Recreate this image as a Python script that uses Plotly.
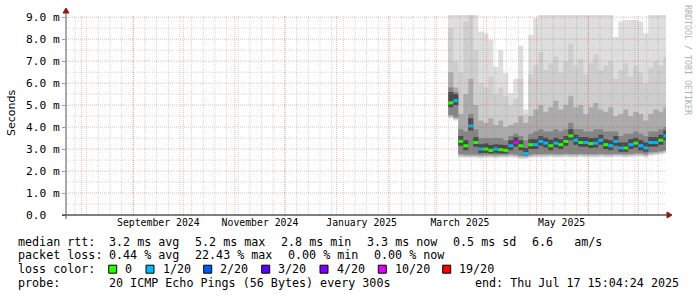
import plotly.graph_objects as go
import pandas as pd

# ---------------- data ----------------
start_time = "2024-07-22 15:04:24"
end_time = "2025-07-17 15:04:24"

dates = ["2025-03-09", "2025-03-12", "2025-03-15", "2025-03-18", "2025-03-21", "2025-03-24",
         "2025-03-27", "2025-03-30", "2025-04-02", "2025-04-05", "2025-04-08", "2025-04-11",
         "2025-04-14", "2025-04-17", "2025-04-20", "2025-04-23", "2025-04-26", "2025-04-29",
         "2025-05-02", "2025-05-05", "2025-05-08", "2025-05-11", "2025-05-14", "2025-05-17",
         "2025-05-20", "2025-05-23", "2025-05-26", "2025-05-29", "2025-06-01", "2025-06-04",
         "2025-06-07", "2025-06-10", "2025-06-13", "2025-06-16", "2025-06-19", "2025-06-22",
         "2025-06-25", "2025-06-28", "2025-07-01", "2025-07-04", "2025-07-07", "2025-07-10",
         "2025-07-13", "2025-07-16"]

median_ms = [5.10, 5.20, 3.35, 3.15, 4.05, 3.30, 3.00, 3.00, 2.94, 3.00, 2.97, 2.94, 3.15, 3.30, 3.15,
             2.80, 3.20, 3.20, 3.35, 3.27, 3.15, 3.27, 3.20, 3.35, 3.60, 3.40, 3.30, 3.30, 3.25, 3.27,
             3.40, 3.20, 3.15, 3.35, 3.05, 3.05, 3.20, 3.27, 3.15, 3.05, 3.30, 3.30, 3.40, 3.60]

loss = [0, 1, 0, 0, 1, 0, 1, 0, 0, 1, 0, 0, 1, 10, 0, 1, 0, 1, 1, 1, 0, 1, 0, 0, 0, 1, 0, 1, 0, 1,
        1, 0, 1, 1, 1, 0, 1, 0, 1, 1, 1, 1, 0, 1]

# smoke bands (outer -> inner), in ms
lo_a = [4.40, 4.30, 2.62, 2.60, 2.60, 2.60, 2.58, 2.60, 2.60, 2.58, 2.60, 2.60, 2.62, 2.60, 2.55,
        2.55, 2.60, 2.62, 2.62, 2.62, 2.64, 2.62, 2.62, 2.64, 2.62, 2.62, 2.64, 2.62, 2.62, 2.62,
        2.64, 2.62, 2.62, 2.64, 2.64, 2.62, 2.64, 2.66, 2.66, 2.62, 2.70, 2.72, 2.75, 2.80]
hi_a = [9.10, 9.10, 9.10, 9.10, 9.10, 9.10, 8.35, 8.27, 7.97, 6.75, 7.50, 6.45, 5.55, 6.20, 7.70,
        4.80, 8.20, 8.95, 9.10, 9.10, 9.10, 9.10, 9.10, 9.10, 9.10, 9.10, 9.10, 9.10, 9.10, 9.10,
        9.10, 9.10, 9.10, 8.10, 8.80, 8.87, 8.87, 8.87, 8.80, 8.27, 9.10, 9.10, 9.10, 9.10]
lo_b = [4.44, 4.34, 2.66, 2.64, 2.64, 2.64, 2.62, 2.64, 2.64, 2.62, 2.64, 2.64, 2.66, 2.64, 2.59,
        2.59, 2.64, 2.66, 2.66, 2.66, 2.68, 2.66, 2.66, 2.68, 2.66, 2.66, 2.68, 2.66, 2.66, 2.66,
        2.68, 2.66, 2.66, 2.68, 2.68, 2.66, 2.68, 2.70, 2.70, 2.66, 2.74, 2.76, 2.79, 2.84]
hi_b = [8.50, 7.00, 6.50, 8.80, 9.10, 7.50, 6.00, 5.80, 6.30, 5.50, 5.80, 5.40, 5.00, 5.30, 6.20,
        4.60, 6.40, 6.80, 7.40, 6.60, 6.90, 7.20, 6.50, 7.00, 7.80, 6.80, 7.10, 6.40, 6.90, 7.30,
        6.60, 6.80, 7.00, 6.20, 6.60, 6.90, 6.30, 6.80, 6.50, 6.00, 6.70, 7.00, 6.80, 7.20]
lo_c = [4.49, 4.39, 2.71, 2.69, 2.69, 2.69, 2.67, 2.69, 2.69, 2.67, 2.69, 2.69, 2.71, 2.69, 2.64,
        2.64, 2.69, 2.71, 2.71, 2.71, 2.73, 2.71, 2.71, 2.73, 2.71, 2.71, 2.73, 2.71, 2.71, 2.71,
        2.73, 2.71, 2.71, 2.73, 2.73, 2.71, 2.73, 2.75, 2.75, 2.71, 2.79, 2.81, 2.84, 2.89]
hi_c = [6.50, 5.80, 4.60, 5.50, 6.20, 5.00, 4.30, 4.20, 4.40, 4.10, 4.30, 4.00, 4.10, 4.20, 4.50,
        4.20, 4.50, 4.80, 5.00, 4.70, 4.90, 5.20, 4.80, 5.00, 5.40, 4.90, 5.00, 4.60, 4.90, 5.10,
        4.80, 4.70, 4.90, 4.50, 4.60, 4.80, 4.50, 4.70, 4.60, 4.30, 4.60, 4.80, 4.70, 4.90]
lo_d = [4.55, 4.45, 2.77, 2.75, 2.75, 2.75, 2.73, 2.75, 2.75, 2.73, 2.75, 2.75, 2.77, 2.75, 2.70,
        2.70, 2.75, 2.77, 2.77, 2.77, 2.79, 2.77, 2.77, 2.79, 2.77, 2.77, 2.79, 2.77, 2.77, 2.77,
        2.79, 2.77, 2.77, 2.79, 2.79, 2.77, 2.79, 2.81, 2.81, 2.77, 2.85, 2.87, 2.90, 2.95]
hi_d = [5.80, 5.60, 3.90, 3.80, 4.60, 3.90, 3.50, 3.50, 3.50, 3.50, 3.50, 3.40, 3.60, 3.70, 3.60,
        3.40, 3.70, 3.80, 3.90, 3.80, 3.80, 3.90, 3.80, 3.90, 4.20, 3.90, 3.90, 3.80, 3.80, 3.90,
        3.90, 3.80, 3.80, 3.80, 3.60, 3.70, 3.70, 3.80, 3.70, 3.60, 3.80, 3.80, 3.90, 4.00]
lo_e = [4.90, 5.00, 3.15, 2.95, 3.85, 3.10, 2.82, 2.82, 2.80, 2.82, 2.80, 2.80, 2.95, 3.10, 2.95,
        2.72, 3.00, 3.00, 3.15, 3.07, 2.95, 3.07, 3.00, 3.15, 3.40, 3.20, 3.10, 3.10, 3.05, 3.07,
        3.20, 3.00, 2.95, 3.15, 2.88, 2.88, 3.00, 3.07, 2.95, 2.88, 3.10, 3.10, 3.20, 3.40]
hi_e = [5.60, 5.50, 3.60, 3.40, 4.40, 3.55, 3.22, 3.25, 3.18, 3.22, 3.20, 3.18, 3.40, 3.55, 3.40,
        3.05, 3.45, 3.45, 3.60, 3.52, 3.42, 3.52, 3.45, 3.60, 3.90, 3.65, 3.55, 3.55, 3.50, 3.52,
        3.65, 3.45, 3.40, 3.60, 3.30, 3.30, 3.45, 3.52, 3.40, 3.30, 3.55, 3.55, 3.65, 3.85]

loss_levels = [0, 1, 2, 3, 4, 10, 19]
loss_labels = ["0", "1/20", "2/20", "3/20", "4/20", "10/20", "19/20"]
loss_colors = ["#26ff00", "#00b8ff", "#0059ff", "#5e00ff", "#7e00ff", "#dd00ff", "#ff0000"]

y_tick_vals = [0, 1, 2, 3, 4, 5, 6, 7, 8, 9]
y_tick_text = ["0.0  ", "1.0 m", "2.0 m", "3.0 m", "4.0 m", "5.0 m", "6.0 m", "7.0 m", "8.0 m", "9.0 m"]
x_label_dates = ["2024-09-16", "2024-11-16", "2025-01-16", "2025-03-16", "2025-05-16"]
x_label_text = ["September 2024", "November 2024", "January 2025", "March 2025", "May 2025"]

rtt_stats = ["3.2 ms avg", "5.2 ms max", "2.8 ms min", "3.3 ms now", "0.5 ms sd", "6.6   am/s"]
loss_stats = ["0.44 % avg", "22.43 % max", "0.00 % min", "0.00 % now"]
probe_text = "20 ICMP Echo Pings (56 Bytes) every 300s"
end_text = "end: Thu Jul 17 15:04:24 2025"

# ---------------- layout geometry (pixels) ----------------
W, H = 697, 297
PL, PR, PT, PB = 66, 666, 15, 215
YMAX = 9.1
MONO = "DejaVu Sans Mono"
NB = "\u00a0"


def nb(s):
    return s.replace(" ", NB)


def px_x(px):
    return (px - PL) / (PR - PL)


def px_y(py):
    return (PB - py) / (PB - PT)


fig = go.Figure()

x_steps = list(pd.to_datetime(dates + [end_time], format="mixed"))


def stepvals(v):
    return list(v) + [v[-1]]


bands = [(lo_a, hi_a, "#dedede"), (lo_b, hi_b, "#cecece"), (lo_c, hi_c, "#ababab"),
         (lo_d, hi_d, "#858585"), (lo_e, hi_e, "#4a4a4a")]
for lo, hi, col in bands:
    fig.add_trace(go.Scatter(x=x_steps, y=stepvals(lo), mode="lines", line=dict(width=0, shape="hv"),
                             hoverinfo="skip", showlegend=False))
    fig.add_trace(go.Scatter(x=x_steps, y=stepvals(hi), mode="lines", line=dict(width=0, shape="hv"),
                             fill="tonexty", fillcolor=col, hoverinfo="skip", showlegend=False))

# median, coloured by loss
for lvl, col in zip(loss_levels, loss_colors):
    xs, ys = [], []
    for i, (m, l) in enumerate(zip(median_ms, loss)):
        if l == lvl:
            xs += [x_steps[i], x_steps[i + 1], None]
            ys += [m, m, None]
    if xs:
        fig.add_trace(go.Scatter(x=xs, y=ys, mode="lines", line=dict(color=col, width=3),
                                 hoverinfo="skip", showlegend=False))

# ---------------- grid (drawn above the smoke, like rrdtool) ----------------
shapes = []
minor_col = "rgba(140,140,140,0.36)"
major_col = "rgba(200,60,60,0.36)"
dash = "1px,1px"
for d in pd.date_range("2024-07-28", "2025-07-17", freq="7D"):
    shapes.append(dict(type="line", xref="x", yref="paper", x0=d, x1=d, y0=0, y1=1,
                       line=dict(color=minor_col, width=1, dash=dash), layer="above"))
for d in pd.date_range("2024-08-01", "2025-07-17", freq="MS"):
    shapes.append(dict(type="line", xref="x", yref="paper", x0=d, x1=d, y0=0, y1=1,
                       line=dict(color=major_col, width=1, dash=dash), layer="above"))
for k in range(0, 18):
    v = 0.5 + k * 0.5
    col = major_col if abs(v - round(v)) < 1e-9 else minor_col
    shapes.append(dict(type="line", xref="paper", yref="y", x0=0, x1=1, y0=v, y1=v,
                       line=dict(color=col, width=1, dash=dash), layer="above"))

# axes lines and arrows
arrow_col = "#8b1a1a"
shapes.append(dict(type="line", xref="paper", yref="paper", xsizemode="pixel", ysizemode="pixel",
                   xanchor=0, yanchor=0, x0=-4, x1=602, y0=0, y1=0,
                   line=dict(color="#000000", width=1), layer="above"))
shapes.append(dict(type="line", xref="paper", yref="paper", xsizemode="pixel", ysizemode="pixel",
                   xanchor=0, yanchor=0, x0=0, x1=0, y0=-4, y1=204,
                   line=dict(color="#555555", width=1), layer="above"))
shapes.append(dict(type="path", xref="paper", yref="paper", xsizemode="pixel", ysizemode="pixel",
                   xanchor=0, yanchor=0, path="M 601,-3 L 601,3 L 606,0 Z",
                   fillcolor=arrow_col, line=dict(color=arrow_col, width=1), layer="above"))
shapes.append(dict(type="path", xref="paper", yref="paper", xsizemode="pixel", ysizemode="pixel",
                   xanchor=0, yanchor=0, path="M -3,202 L 3,202 L 0,207 Z",
                   fillcolor=arrow_col, line=dict(color=arrow_col, width=1), layer="above"))

# ---------------- legend text ----------------
ann = []


def text(px, py, s, size=11.7, color="#000000", xanchor="left", family=MONO, angle=0):
    ann.append(dict(x=px_x(px), y=px_y(py), xref="paper", yref="paper", text=nb(s), showarrow=False,
                    xanchor=xanchor, yanchor="middle", textangle=angle,
                    font=dict(family=family, size=size, color=color)))


row_y = [241.5, 255.3, 269.2, 283.0]
text(16, row_y[0], "median rtt:")
for px, s in zip([107.3, 193.3, 279.3, 365.0, 451.0, 530.0], rtt_stats):
    text(px, row_y[0], s)
text(16, row_y[1], "packet loss:")
for px, s in zip([107.3, 193.3, 286.0, 372.0], loss_stats):
    text(px, row_y[1], s)
text(16, row_y[2], "loss color:")
box_x = [108.7, 146.0, 203.7, 261.7, 320.0, 378.3, 442.7]
for bx, lab, col in zip(box_x, loss_labels, loss_colors):
    shapes.append(dict(type="rect", xref="paper", yref="paper", x0=px_x(bx), x1=px_x(bx + 8),
                       y0=px_y(row_y[2] - 4), y1=px_y(row_y[2] + 4), fillcolor=col,
                       line=dict(color="#000000", width=1), layer="above"))
    text(bx + 14.6, row_y[2], lab)
text(16, row_y[3], "probe:")
text(107.3, row_y[3], probe_text)
text(681, row_y[3], end_text, xanchor="right")

# axis title + rrdtool tag
ann.append(dict(x=px_x(11), y=px_y(113), xref="paper", yref="paper", text="Seconds", showarrow=False,
                textangle=-90, xanchor="center", yanchor="middle",
                font=dict(family="DejaVu Sans", size=11, color="#000000")))
ann.append(dict(x=px_x(688), y=px_y(60), xref="paper", yref="paper", text=nb("RRDTOOL / TOBI OETIKER"),
                showarrow=False, textangle=90, xanchor="center", yanchor="middle",
                font=dict(family=MONO, size=8.3, color="#b0b0b0")))

fig.update_layout(
    width=W, height=H, margin=dict(l=PL, r=W - PR, t=PT, b=H - PB),
    paper_bgcolor="#ffffff", plot_bgcolor="#ffffff", showlegend=False,
    shapes=shapes, annotations=ann,
    xaxis=dict(range=[start_time, end_time], type="date", showgrid=False, zeroline=False, showline=False,
               tickmode="array", tickvals=x_label_dates, ticktext=[nb(t) for t in x_label_text],
               ticks="", tickfont=dict(family=MONO, size=9.8, color="#000000"), fixedrange=True),
    yaxis=dict(range=[0, YMAX], showgrid=False, zeroline=False, showline=False,
               tickmode="array", tickvals=y_tick_vals, ticktext=[nb(t) for t in y_tick_text],
               ticks="outside", ticklen=3, tickcolor="#999999",
               tickfont=dict(family=MONO, size=11.2, color="#000000"), fixedrange=True),
)

fig.write_html("out.html")
